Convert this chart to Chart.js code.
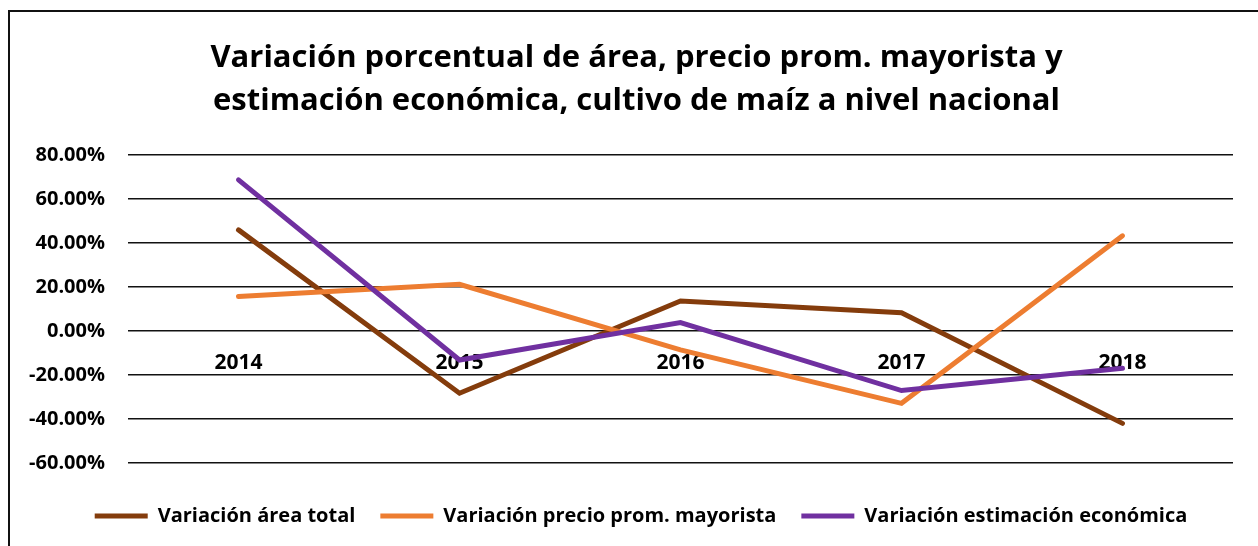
<!DOCTYPE html>
<html lang="es">
<head>
<meta charset="utf-8">
<title>Variación porcentual maíz</title>
<script src="https://cdn.jsdelivr.net/npm/chart.js@4"></script>
<style>
  html, body { margin: 0; padding: 0; background: #fff; overflow: hidden; }
  #marco {
    position: absolute; left: 8px; top: 10px;
    width: 1400px; height: 700px;
    border-left: 2px solid #111; border-top: 2px solid #111;
  }
  #grafico { position: absolute; left: 0; top: 0; }
</style>
</head>
<body>
<div id="marco"></div>
<canvas id="grafico" width="1258" height="546"></canvas>
<script>
// Años y variaciones (%)
const anios = ['2014', '2015', '2016', '2017', '2018'];
const variacionArea = [45.9, -28.3, 13.6, 8.3, -42.0];
const variacionPrecio = [15.6, 21.2, -8.6, -32.9, 43.2];
const variacionEstimacion = [68.6, -13.2, 3.8, -27.1, -17.0];

const ejeMin = -60;
const ejeMax = 80;
const ejePaso = 20;

const fuente = '"Open Sans", Lato, sans-serif';

function serie(nombre, valores, color, orden) {
    return {
        label: nombre,
        data: valores,
        borderColor: color,
        backgroundColor: color,
        borderWidth: 5,
        borderCapStyle: 'round',
        borderJoinStyle: 'miter',
        pointRadius: 0,
        pointHoverRadius: 0,
        tension: 0,
        order: orden // la última serie queda encima
    };
}

// título y leyenda se centran entre el marco y el final del área de trazado
const bloquesCorridos = {
    id: 'bloquesCorridos',
    afterLayout(chart) {
        chart.legend.left += 49;
        chart.titleBlock.left += 40;
    }
};

const ctx = document.getElementById('grafico').getContext('2d');

new Chart(ctx, {
    type: 'line',
    data: {
        labels: anios,
        datasets: [
            serie('Variación área total', variacionArea, '#843C0C', 3),
            serie('Variación precio prom. mayorista', variacionPrecio, '#ED7D31', 2),
            serie('Variación estimación económica', variacionEstimacion, '#7030A0', 1)
        ]
    },
    plugins: [bloquesCorridos],
    options: {
        responsive: false,
        animation: false,
        devicePixelRatio: 1,
        layout: {
            padding: { left: 0, right: 25, top: 0, bottom: 10 }
        },
        plugins: {
            title: {
                display: true,
                text: [
                    'Variación porcentual de área, precio prom. mayorista y',
                    'estimación económica, cultivo de maíz a nivel nacional'
                ],
                color: '#000',
                font: { family: fuente, size: 31, weight: 'bold', lineHeight: 1.4 },
                padding: { top: 36, bottom: 32 }
            },
            legend: {
                position: 'bottom',
                labels: {
                    usePointStyle: true,
                    pointStyle: 'line',
                    pointStyleWidth: 53,
                    padding: 25,
                    color: '#000',
                    font: { family: fuente, size: 20, weight: 'bold' },
                    sort: (a, b) => a.datasetIndex - b.datasetIndex
                },
                title: {
                    display: true,
                    text: ' ',
                    font: { size: 12, lineHeight: 1 },
                    padding: { top: 6, bottom: 0 }
                }
            },
            tooltip: { enabled: false }
        },
        scales: {
            x: {
                position: { y: 0 }, // años sobre la línea del 0 %
                offset: true,
                grid: { display: false, drawTicks: false },
                border: { display: false },
                ticks: {
                    color: '#000',
                    padding: 20,
                    maxRotation: 0,
                    font: { family: fuente, size: 21, weight: 'bold' }
                }
            },
            y: {
                min: ejeMin,
                max: ejeMax,
                afterFit: (escala) => { escala.width = 128; },
                grid: { color: '#111', lineWidth: 1.5, drawTicks: false },
                border: { display: false },
                ticks: {
                    stepSize: ejePaso,
                    padding: 23,
                    color: '#000',
                    font: { family: fuente, size: 20, weight: 'bold' },
                    callback: (v) => v.toFixed(2) + '%'
                }
            }
        }
    }
});
</script>
</body>
</html>
